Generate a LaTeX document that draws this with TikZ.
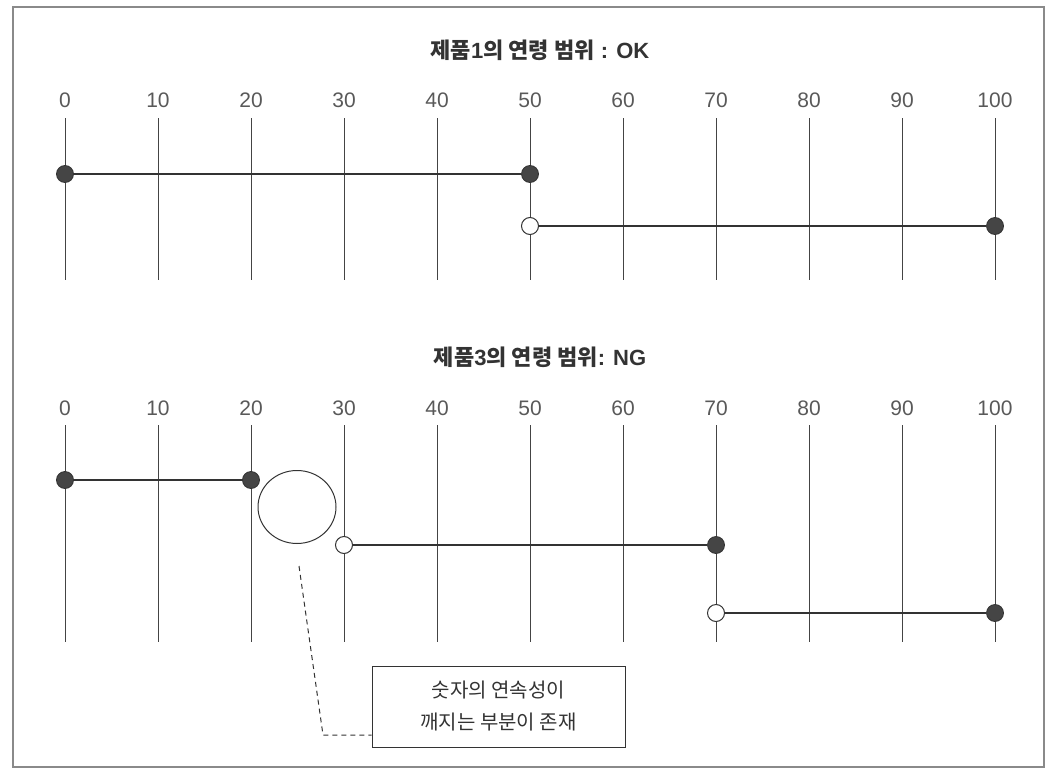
\documentclass[tikz,border=0pt]{standalone}
\usepackage{fontspec}
\usetikzlibrary{shapes.geometric}
\setmainfont{Liberation Sans}
\newfontfamily\kr{Noto Sans CJK KR}
\definecolor{ink}{HTML}{333333}
\definecolor{grid}{HTML}{444444}
\definecolor{dotc}{HTML}{454545}
\definecolor{frame}{HTML}{8A8A8A}
\tikzset{
  gridline/.style={draw=grid,line width=0.9pt},
  seg/.style={draw=ink,line width=2.2pt},
  fdot/.style={circle,fill=dotc,draw=ink,line width=0.8pt,minimum size=17pt,inner sep=0pt},
  odot/.style={circle,fill=white,draw=ink,line width=1pt,minimum size=17pt,inner sep=0pt},
  ticklab/.style={text=black!65,font=\fontsize{21}{21}\selectfont},
  title/.style={text=ink,font=\bfseries\fontsize{22}{22}\selectfont},
  note/.style={draw=ink,line width=1pt,fill=white,minimum width=253pt,minimum height=81pt,align=center,font=\kr\fontsize{20}{32}\selectfont,text=ink}
}
\begin{document}
\begin{tikzpicture}[x=1pt,y=-1pt]
\useasboundingbox (0,0) rectangle (1060,784);
\draw[frame,line width=1.5pt] (13,7) rectangle (1044,767);
% titles
\node[title] (t1) at (540,50) {{\kr 제품}1{\kr 의 연령 범위} : OK};
\node[title] (t2) at (540,357) {{\kr 제품}3{\kr 의 연령 범위}: NG};
% grids
\foreach \i in {0,...,10}{
  \pgfmathsetmacro{\xx}{65+93*\i}
  \pgfmathtruncatemacro{\vv}{10*\i}
  \node[ticklab] (a\i) at (\xx,100) {\vv};
  \node[ticklab] (b\i) at (\xx,408) {\vv};
  \coordinate (at\i) at (\xx,118);
  \coordinate (ab\i) at (\xx,280);
  \coordinate (bt\i) at (\xx,425);
  \coordinate (bb\i) at (\xx,642);
  \draw[gridline] (at\i) -- (ab\i);
  \draw[gridline] (bt\i) -- (bb\i);
}
% chart 1
\node[fdot] (p1) at (65,174) {};
\node[fdot] (p2) at (530,174) {};
\node[odot] (p3) at (530,226) {};
\node[fdot] (p4) at (995,226) {};
\draw[seg] (p1) -- (p2);
\draw[seg] (p3) -- (p4);
% chart 2
\node[fdot] (q1) at (65,480) {};
\node[fdot] (q2) at (251,480) {};
\node[odot] (q3) at (344,545) {};
\node[fdot] (q4) at (716,545) {};
\node[odot] (q5) at (716,613) {};
\node[fdot] (q6) at (995,613) {};
\draw[seg] (q1) -- (q2);
\draw[seg] (q3) -- (q4);
\draw[seg] (q5) -- (q6);
% gap ellipse
\node[ellipse,draw=ink,line width=1pt,minimum width=78pt,minimum height=73pt,inner sep=0pt] (gap) at (297,507) {};
% note
\node[note] (nt) at (498.5,706.5) {숫자의 연속성이\\깨지는 부분이 존재};
\coordinate (bend) at (323,735);
\draw[ink,line width=1pt,dash pattern=on 5pt off 4pt] (299,566) -- (bend) -- (nt.west |- bend);
\end{tikzpicture}
\end{document}
